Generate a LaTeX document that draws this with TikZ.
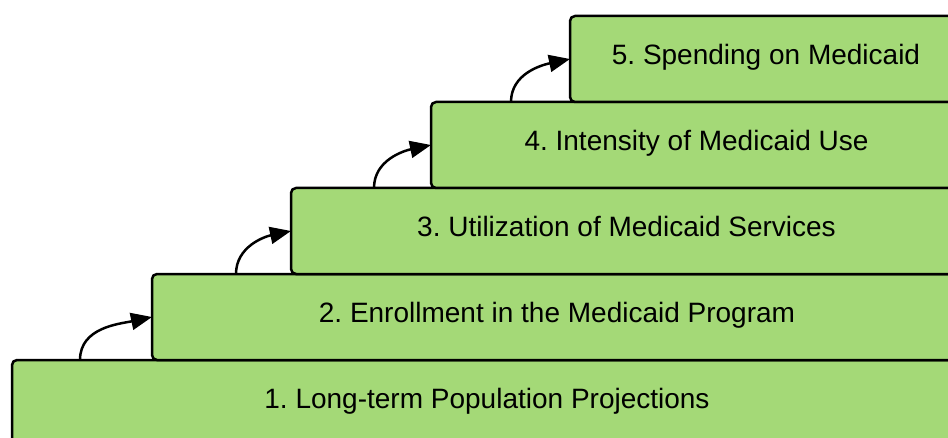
\documentclass[tikz,border=0pt]{standalone}
\usepackage{fontspec}
\setmainfont{Liberation Sans}
\usetikzlibrary{positioning,arrows.meta}
\definecolor{stepgreen}{HTML}{A4D977}
\frenchspacing
\begin{document}
\begin{tikzpicture}[x=1pt,y=1pt,
    level/.style={draw=black, line width=2.5pt, fill=stepgreen, rounded corners=5pt,
      minimum height=86pt, outer sep=0pt, inner sep=0pt, text depth=10pt,
      font=\fontsize{28}{33}\selectfont, anchor=south east},
    >={Triangle[length=21pt,width=17pt]}]
    \useasboundingbox (0,0) rectangle (948,437);

    \node[level, minimum width=950pt] (l1) at (962,-9) {1. Long-term Population Projections};
    \node[level, minimum width=810pt, above left=0pt and 0pt of l1.north east] (l2) {2. Enrollment in the Medicaid Program};
    \node[level, minimum width=671pt, above left=0pt and 0pt of l2.north east] (l3) {3. Utilization of Medicaid Services};
    \node[level, minimum width=531pt, above left=0pt and 0pt of l3.north east] (l4) {4. Intensity of Medicaid Use};
    \node[level, minimum width=392pt, above left=0pt and 0pt of l4.north east] (l5) {5. Spending on Medicaid};

    \coordinate (s1) at ([xshift=68pt]l1.north west);
    \coordinate (s2) at ([xshift=84pt]l2.north west);
    \coordinate (s3) at ([xshift=83pt]l3.north west);
    \coordinate (s4) at ([xshift=80pt]l4.north west);

    \path[->, line width=2.5pt] (s1) edge [out=90, in=192] (l2.west);
    \path[->, line width=2.5pt] (s2) edge [out=90, in=192] (l3.west);
    \path[->, line width=2.5pt] (s3) edge [out=90, in=192] (l4.west);
    \path[->, line width=2.5pt] (s4) edge [out=90, in=192] (l5.west);
  \end{tikzpicture}
\end{document}
